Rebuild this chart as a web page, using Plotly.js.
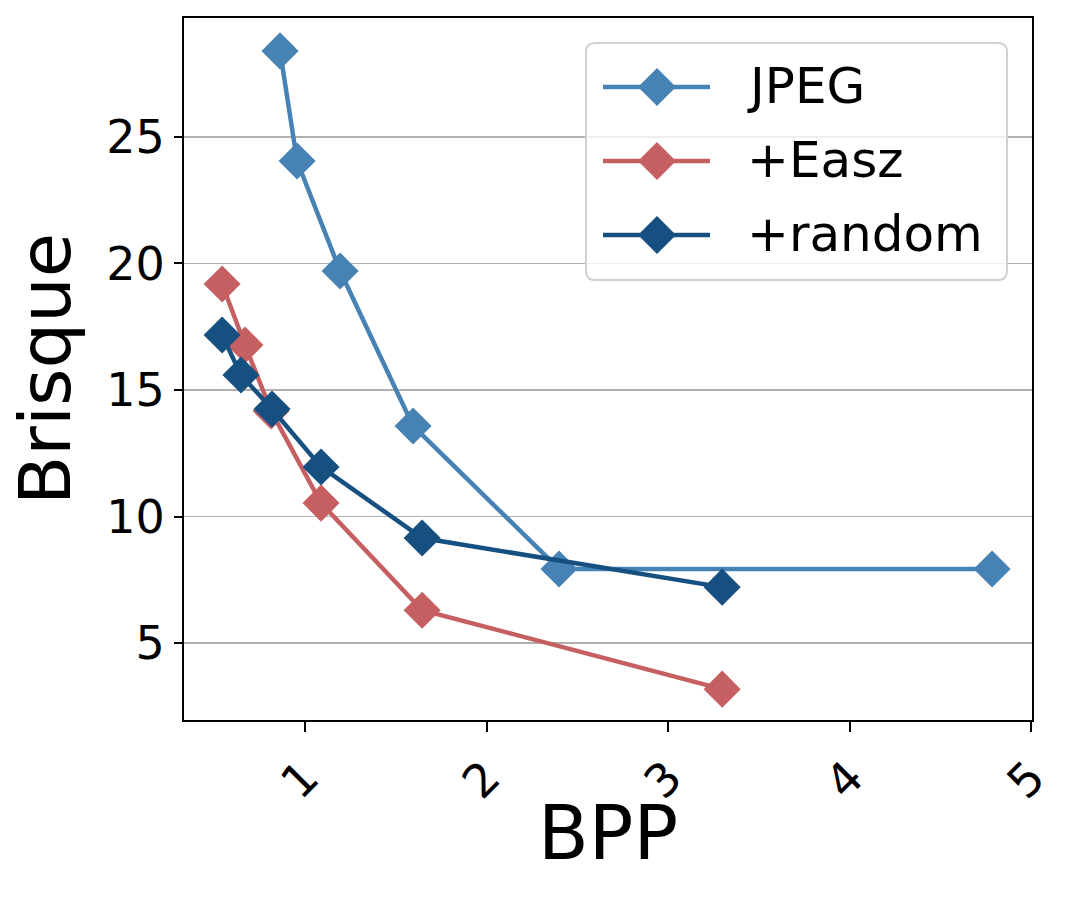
<!DOCTYPE html>
<html>
<head>
<meta charset="utf-8">
<script src="https://cdn.plot.ly/plotly-3.0.1.min.js"></script>
<style>html,body{margin:0;padding:0;background:#fff;}#chart{width:1079px;height:898px;}</style>
</head>
<body>
<div id="chart"></div>
<script>
const seriesNames = ["JPEG", "+Easz", "+random"];
const jpegBpp = [0.862, 0.956, 1.193, 1.595, 2.399, 4.785];
const jpegBrisque = [28.40, 24.05, 19.70, 13.58, 7.93, 7.93];
const easzBpp = [0.543, 0.669, 0.813, 1.088, 1.645, 3.298];
const easzBrisque = [19.19, 16.78, 14.17, 10.53, 6.30, 3.18];
const randomBpp = [0.543, 0.647, 0.818, 1.088, 1.645, 3.298];
const randomBrisque = [17.17, 15.59, 14.25, 11.96, 9.15, 7.21];
const colors = ["#4682b4", "#c55f61", "#165080"];
const xTicks = [1, 2, 3, 4, 5];
const yTicks = [5, 10, 15, 20, 25];
const xTitle = "BPP";
const yTitle = "Brisque";

const font = "DejaVu Sans, sans-serif";
const W = 1079, H = 898;
const M = {l: 184, r: 47, t: 18, b: 178};
const PW = W - M.l - M.r, PH = H - M.t - M.b;
function px(x) { return (x - M.l) / PW; }
function py(y) { return (H - M.b - y) / PH; }

function tr(x, y, name, color) {
  return {
    x: x, y: y, name: name, type: "scatter", mode: "lines+markers",
    line: {color: color, width: 4.5},
    marker: {symbol: "diamond", size: 28.5, color: color},
    showlegend: false
  };
}
const data = [
  tr(jpegBpp, jpegBrisque, seriesNames[0], colors[0]),
  tr(easzBpp, easzBrisque, seriesNames[1], colors[1]),
  tr(randomBpp, randomBrisque, seriesNames[2], colors[2])
];

// custom legend (matplotlib-like)
const shapes = [];
const annotations = [];
const box = {x0: 586, x1: 1007, y0: 43, y1: 280, r: 9};
function roundRect(b) {
  const rx = b.r / PW, ry = b.r / PH;
  const L = px(b.x0), R = px(b.x1), T = py(b.y0), B = py(b.y1);
  return `M${L + rx},${T} L${R - rx},${T} Q${R},${T} ${R},${T - ry} L${R},${B + ry} Q${R},${B} ${R - rx},${B} L${L + rx},${B} Q${L},${B} ${L},${B + ry} L${L},${T - ry} Q${L},${T} ${L + rx},${T} Z`;
}
shapes.push({type: "path", xref: "paper", yref: "paper", path: roundRect(box),
  fillcolor: "rgba(255,255,255,0.8)", line: {color: "#d0d0d0", width: 2}, layer: "above"});
const rowY = [87, 161, 235];
seriesNames.forEach(function (name, i) {
  const cy = rowY[i];
  shapes.push({type: "line", xref: "paper", yref: "paper",
    x0: px(603), x1: px(710), y0: py(cy), y1: py(cy),
    line: {color: colors[i], width: 4.5}, layer: "above"});
  const hx = 19 / PW, hy = 19 / PH, cx = px(657), cyp = py(cy);
  shapes.push({type: "path", xref: "paper", yref: "paper",
    path: `M${cx - hx},${cyp} L${cx},${cyp + hy} L${cx + hx},${cyp} L${cx},${cyp - hy} Z`,
    fillcolor: colors[i], line: {color: colors[i], width: 0}, layer: "above"});
  annotations.push({xref: "paper", yref: "paper", x: px(745), y: py(cy - 1),
    xanchor: "left", yanchor: "middle", showarrow: false, text: name,
    font: {family: font, size: 50, color: "#000"}});
});
// x axis title placed as an annotation (rotated tick labels push the built-in title too low)
annotations.push({xref: "paper", yref: "paper", x: 0.5, y: py(833),
  xanchor: "center", yanchor: "middle", showarrow: false, text: xTitle,
  font: {family: font, size: 74, color: "#000"}});

const layout = {
  width: W, height: H,
  margin: M,
  paper_bgcolor: "#fff", plot_bgcolor: "#fff",
  font: {family: font, color: "#000"},
  showlegend: false,
  shapes: shapes,
  annotations: annotations,
  xaxis: {
    range: [0.333, 5.005], tickvals: xTicks, ticktext: xTicks.map(String),
    tickangle: -45, ticks: "outside", ticklen: 10, tickwidth: 2, tickcolor: "#000",
    showgrid: false, zeroline: false,
    showline: true, linecolor: "#000", linewidth: 2, mirror: true,
    tickfont: {family: font, size: 46, color: "#000"}
  },
  yaxis: {
    range: [1.96, 29.70], tickvals: yTicks, ticktext: yTicks.map(String),
    ticks: "outside", ticklen: 8, tickwidth: 2, tickcolor: "#000",
    showgrid: true, gridcolor: "#b0b0b0", gridwidth: 1.5, zeroline: false,
    showline: true, linecolor: "#000", linewidth: 2, mirror: true,
    tickfont: {family: font, size: 46, color: "#000"},
    title: {text: yTitle, font: {family: font, size: 72, color: "#000"}, standoff: 12}
  }
};
Plotly.newPlot("chart", data, layout, {displayModeBar: false, staticPlot: true});
</script>
</body>
</html>
